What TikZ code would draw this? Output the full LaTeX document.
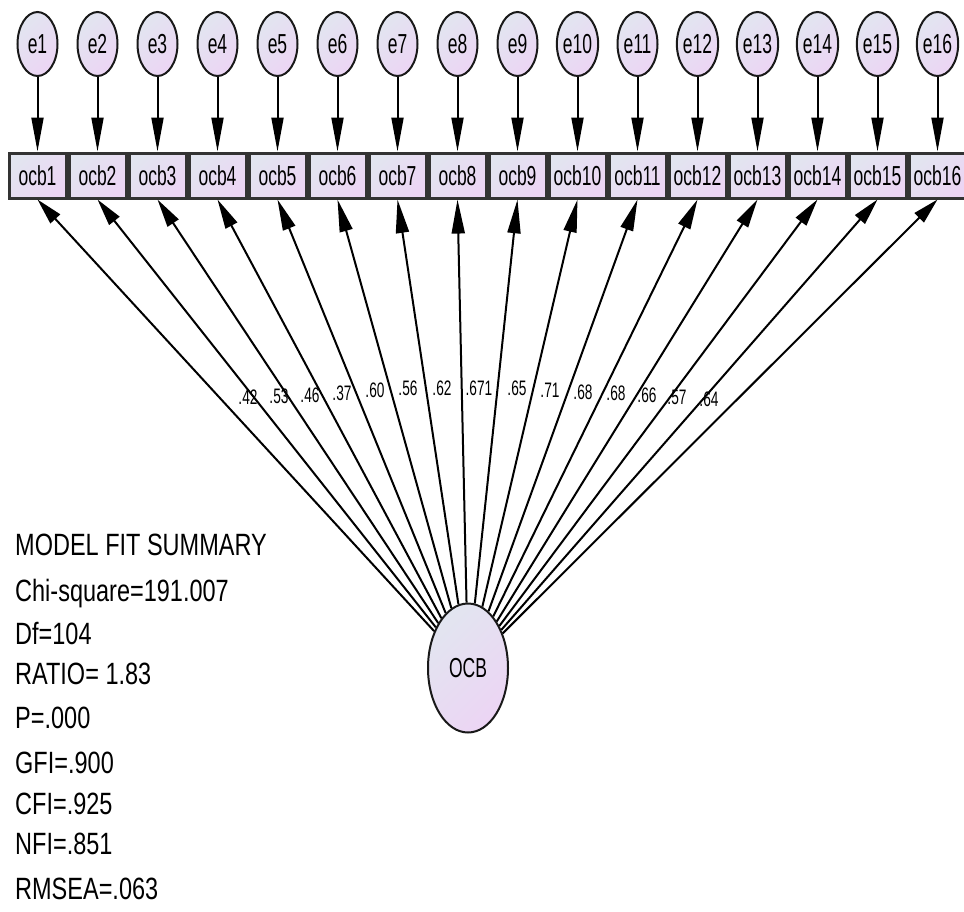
\documentclass[tikz,border=0pt]{standalone}
\usepackage{fontspec}
\setmainfont{Liberation Sans}
\usetikzlibrary{shapes.geometric,arrows.meta}
\definecolor{shadeA}{RGB}{226,229,240}
\definecolor{shadeB}{RGB}{236,213,244}
% vertical stretch of a piece of text
\newcommand\vstr[2]{\scalebox{1}[#1]{#2}}
\begin{document}
\begin{tikzpicture}[x=1pt,y=-1pt,
  grad/.style={top color=shadeA,bottom color=shadeB,shading angle=45},
  errnode/.style={ellipse,draw=black!90,line width=2pt,grad,minimum width=40pt,
    minimum height=64pt,inner sep=0pt,font=\fontsize{17.5}{20}\selectfont},
  obsnode/.style={rectangle,draw=black!80,line width=3pt,grad,minimum width=57pt,
    minimum height=45pt,inner sep=0pt,font=\fontsize{17.5}{20}\selectfont},
  latnode/.style={ellipse,draw=black!90,line width=2pt,grad,minimum width=80pt,
    minimum height=129pt,inner sep=0pt,font=\fontsize{17.5}{20}\selectfont},
  coef/.style={inner sep=0pt,font=\fontsize{13.7}{15}\selectfont},
  fitline/.style={anchor=base west,inner sep=0pt,font=\fontsize{23.5}{26}\selectfont},
  link/.style={line width=2pt,black}
]
\useasboundingbox (0,0) rectangle (964,911);

% indicators and their error terms
\foreach \i in {1,...,16} {
  \pgfmathsetmacro\cx{37.5+60*(\i-1)}
  \node[obsnode] (ocb\i) at (\cx,175.5) {\vstr{1.57}{ocb\i}};
  \node[errnode] (e\i) at (\cx,44) {\vstr{1.57}{e\i}};
  \draw[link,-{Triangle[length=34pt,width=12pt]}] (e\i) -- (ocb\i);
}

% latent factor
\node[latnode] (OCB) at (468,668) {\vstr{1.57}{OCB}};

% loadings
\foreach \i in {1,...,16} {
  \pgfmathsetmacro\dx{(37.5+60*(\i-1)-468)/100}
  \pgfmathsetmacro\tl{21.7*sqrt(\dx*\dx+22.09)/sqrt(\dx*\dx+8.964)}
  \draw[link,-{Triangle[length=\tl pt,width=13pt]}] (OCB) -- (ocb\i.south);
}

% standardized loading values
\foreach \x/\y/\t in {248/397/.42, 279/396/.53, 310/395/.46, 342/393/.37,
  375/390/.60, 408/388/.56, 442/388/.62, 479/388/.671, 517/388/.65,
  550/390/.71, 583/392/.68, 616/393/.68, 647/395/.66, 677/397/.57, 709/399/.64} {
  \node[coef] at (\x,\y) {\vstr{1.53}{\t}};
}

% fit indices
\node[fitline] (fit0) at (15,555) {\vstr{1.31}{MODEL FIT SUMMARY}};
\node[fitline] (fit1) at (15,601) {\vstr{1.31}{Chi-square=191.007}};
\node[fitline] (fit2) at (15,644) {\vstr{1.31}{Df=104}};
\node[fitline] (fit3) at (15,684) {\vstr{1.31}{RATIO= 1.83}};
\node[fitline] (fit4) at (15,728) {\vstr{1.31}{P=.000}};
\node[fitline] (fit5) at (15,773) {\vstr{1.31}{GFI=.900}};
\node[fitline] (fit6) at (15,814) {\vstr{1.31}{CFI=.925}};
\node[fitline] (fit7) at (15,854) {\vstr{1.31}{NFI=.851}};
\node[fitline] (fit8) at (15,899) {\vstr{1.31}{RMSEA=.063}};
\end{tikzpicture}
\end{document}
